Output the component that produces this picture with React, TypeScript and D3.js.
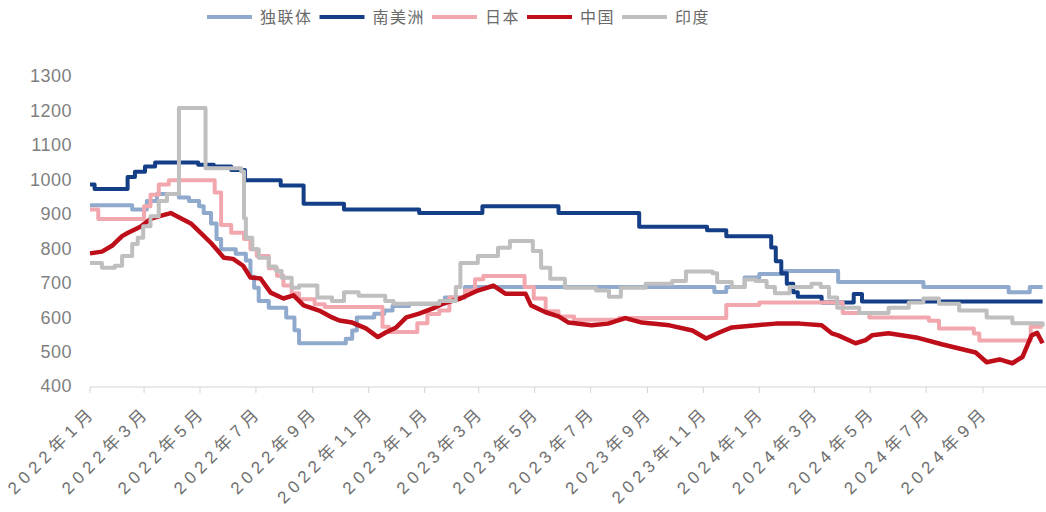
import React from 'react';
import * as d3 from 'd3';

const W = 1046;
const H = 512;

const seriesNames = ['独联体', '南美洲', '日本', '中国', '印度'];
const seriesColors = ['#8FAACC', '#143F86', '#F2A7AF', '#BE0E1A', '#BFBFBF'];

const yTicks = [400, 500, 600, 700, 800, 900, 1000, 1100, 1200, 1300];
const xTickMonths = [
  '2022-01', '2022-03', '2022-05', '2022-07', '2022-09', '2022-11',
  '2023-01', '2023-03', '2023-05', '2023-07', '2023-09', '2023-11',
  '2024-01', '2024-03', '2024-05', '2024-07', '2024-09',
];

type P = [string, number];

const cisData: P[] = [
  ['2022-01-01', 928], ['2022-02-16', 915], ['2022-03-04', 940], ['2022-03-15', 960],
  ['2022-04-08', 950], ['2022-04-19', 940], ['2022-04-30', 925], ['2022-05-05', 905],
  ['2022-05-13', 875], ['2022-05-19', 830], ['2022-05-24', 800], ['2022-06-09', 787],
  ['2022-06-20', 767], ['2022-06-25', 720], ['2022-06-29', 688], ['2022-07-04', 650],
  ['2022-07-15', 630], ['2022-08-03', 602], ['2022-08-12', 565], ['2022-08-17', 527],
  ['2022-09-30', 527], ['2022-10-07', 540], ['2022-10-14', 564], ['2022-10-19', 602],
  ['2022-11-07', 613], ['2022-11-18', 622], ['2022-11-27', 635], ['2022-12-15', 642],
  ['2023-01-23', 660], ['2023-02-14', 690], ['2023-11-13', 676], ['2023-11-26', 690],
  ['2023-12-16', 718], ['2024-01-01', 728], ['2024-01-29', 737], ['2024-03-27', 705],
  ['2024-06-28', 690], ['2024-09-29', 675], ['2024-10-22', 690], ['2024-11-05', 690],
];

const samData: P[] = [
  ['2022-01-01', 988], ['2022-01-06', 975], ['2022-02-11', 1010], ['2022-02-19', 1025],
  ['2022-03-02', 1040], ['2022-03-13', 1052], ['2022-04-29', 1045], ['2022-05-16', 1040],
  ['2022-06-04', 1030], ['2022-06-19', 1000], ['2022-07-28', 985], ['2022-08-22', 932],
  ['2022-10-05', 915], ['2022-12-26', 905], ['2023-03-05', 925], ['2023-05-27', 905],
  ['2023-08-23', 865], ['2023-11-05', 855], ['2023-11-26', 838], ['2024-01-14', 805],
  ['2024-01-19', 765], ['2024-01-25', 730], ['2024-01-31', 700], ['2024-02-07', 675],
  ['2024-02-12', 662], ['2024-03-09', 645], ['2024-04-13', 670], ['2024-04-22', 648],
  ['2024-11-05', 648],
];

const japanData: P[] = [
  ['2022-01-01', 915], ['2022-01-10', 888], ['2022-02-25', 888], ['2022-03-01', 925],
  ['2022-03-08', 958], ['2022-03-17', 988], ['2022-03-28', 1000], ['2022-05-15', 1000],
  ['2022-05-17', 965], ['2022-05-24', 870], ['2022-06-04', 848], ['2022-06-18', 830],
  ['2022-06-25', 800], ['2022-07-02', 780], ['2022-07-15', 745], ['2022-07-24', 723],
  ['2022-07-31', 695], ['2022-08-09', 672], ['2022-08-17', 655], ['2022-09-03', 640],
  ['2022-09-14', 632], ['2022-11-16', 575], ['2022-11-23', 560], ['2022-12-24', 585],
  ['2023-01-04', 612], ['2023-01-17', 622], ['2023-01-28', 660], ['2023-02-14', 680],
  ['2023-02-25', 713], ['2023-03-06', 722], ['2023-04-20', 690], ['2023-04-30', 657],
  ['2023-05-13', 620], ['2023-05-27', 605], ['2023-06-13', 595], ['2023-08-01', 600],
  ['2023-11-26', 638], ['2024-01-01', 645], ['2024-04-01', 615], ['2024-04-30', 602],
  ['2024-07-04', 592], ['2024-07-15', 570], ['2024-08-22', 555], ['2024-08-28', 535],
  ['2024-10-18', 535], ['2024-10-23', 575], ['2024-11-05', 575],
];

const chinaData: P[] = [
  ['2022-01-01', 788], ['2022-01-14', 793], ['2022-01-25', 810], ['2022-02-05', 838],
  ['2022-02-11', 847], ['2022-02-25', 865], ['2022-03-08', 888], ['2022-03-19', 897],
  ['2022-03-30', 905], ['2022-04-10', 890], ['2022-04-21', 875], ['2022-05-02', 847],
  ['2022-05-13', 818], ['2022-05-19', 800], ['2022-05-27', 775], ['2022-06-06', 772],
  ['2022-06-17', 752], ['2022-06-25', 718], ['2022-07-06', 715], ['2022-07-17', 674],
  ['2022-07-31', 657], ['2022-08-11', 666], ['2022-08-22', 637], ['2022-09-08', 622],
  ['2022-09-22', 602], ['2022-09-30', 593], ['2022-10-14', 587], ['2022-10-29', 570],
  ['2022-11-11', 545], ['2022-11-20', 559], ['2022-12-01', 573], ['2022-12-12', 602],
  ['2022-12-26', 613], ['2023-01-10', 628], ['2023-01-21', 642], ['2023-02-09', 657],
  ['2023-02-28', 680], ['2023-03-17', 694], ['2023-03-30', 671], ['2023-04-21', 671],
  ['2023-04-27', 637], ['2023-05-13', 617], ['2023-05-27', 605], ['2023-06-07', 587],
  ['2023-07-02', 579], ['2023-07-20', 584], ['2023-08-08', 600], ['2023-08-26', 587],
  ['2023-09-25', 579], ['2023-10-20', 564], ['2023-11-04', 541], ['2023-11-19', 559],
  ['2023-12-02', 573], ['2024-01-01', 580], ['2024-01-19', 584], ['2024-02-14', 584],
  ['2024-03-09', 579], ['2024-03-20', 556], ['2024-03-27', 550], ['2024-04-15', 527],
  ['2024-04-26', 536], ['2024-05-03', 550], ['2024-05-21', 556], ['2024-06-20', 544],
  ['2024-07-18', 524], ['2024-08-24', 500], ['2024-09-05', 472], ['2024-09-19', 480],
  ['2024-10-03', 469], ['2024-10-14', 487], ['2024-10-24', 550], ['2024-10-30', 557],
  ['2024-11-05', 527],
];

const indiaData: P[] = [
  ['2022-01-01', 760], ['2022-01-14', 746], ['2022-01-28', 752], ['2022-02-05', 780],
  ['2022-02-16', 815], ['2022-02-22', 833], ['2022-02-28', 867], ['2022-03-08', 896],
  ['2022-03-17', 940], ['2022-03-26', 960], ['2022-04-08', 1210], ['2022-05-07', 1035],
  ['2022-06-15', 1026], ['2022-06-18', 890], ['2022-06-20', 833], ['2022-06-27', 800],
  ['2022-07-04', 775], ['2022-07-15', 750], ['2022-07-23', 737], ['2022-07-29', 717],
  ['2022-08-09', 688], ['2022-08-17', 695], ['2022-09-06', 660], ['2022-09-22', 650],
  ['2022-10-05', 675], ['2022-10-21', 665], ['2022-11-19', 650], ['2022-11-28', 642],
  ['2023-01-17', 650], ['2023-02-04', 690], ['2023-02-09', 760], ['2023-02-28', 780],
  ['2023-03-22', 804], ['2023-04-04', 824], ['2023-04-24', 824], ['2023-04-29', 795],
  ['2023-05-08', 746], ['2023-05-18', 714], ['2023-06-03', 688], ['2023-07-07', 680],
  ['2023-07-21', 662], ['2023-08-03', 688], ['2023-08-30', 700], ['2023-09-28', 708],
  ['2023-10-13', 735], ['2023-11-11', 730], ['2023-11-16', 705], ['2023-12-02', 690],
  ['2023-12-16', 712], ['2023-12-28', 708], ['2024-01-09', 690], ['2024-01-18', 672],
  ['2024-02-03', 690], ['2024-02-27', 700], ['2024-03-08', 690], ['2024-03-17', 660],
  ['2024-03-26', 630], ['2024-04-19', 615], ['2024-05-21', 630], ['2024-06-12', 645],
  ['2024-06-28', 657], ['2024-07-15', 642], ['2024-08-06', 622], ['2024-09-05', 602],
  ['2024-10-03', 585], ['2024-11-05', 575],
];

const seriesData: P[][] = [cisData, samData, japanData, chinaData, indiaData];
const seriesStep = [true, true, true, false, true];

const parse = d3.timeParse('%Y-%m-%d');
const parseMonth = d3.timeParse('%Y-%m');

export default function App() {
  const x = d3
    .scaleTime()
    .domain([parse('2022-01-01')!, parse('2024-09-01')!])
    .range([90, 983]);
  const y = d3.scaleLinear().domain([400, 1300]).range([387, 77]);

  const lines = seriesData.map((data, i) => {
    const gen = d3
      .line<P>()
      .x((d) => x(parse(d[0])!))
      .y((d) => y(d[1]))
      .curve(seriesStep[i] ? d3.curveStepAfter : d3.curveLinear);
    return gen(data) || '';
  });

  const tickDates = xTickMonths.map((m) => parseMonth(m)!);

  // legend layout
  const legendY = 17;
  const lineLen = 45;
  const charW = 17.5;
  let cx = 207;
  const legendItems = seriesNames.map((name, i) => {
    const item = { x0: cx, x1: cx + lineLen, tx: cx + lineLen + 8, name, color: seriesColors[i] };
    cx = item.tx + name.length * charW + 7;
    return item;
  });

  return (
    <svg
      width={W}
      height={H}
      style={{ position: 'absolute', left: 0, top: 0, background: '#fff' }}
      fontFamily="'Liberation Sans', Arial, sans-serif"
    >
      {/* legend */}
      {legendItems.map((it) => (
        <g key={it.name}>
          <line x1={it.x0} x2={it.x1} y1={legendY} y2={legendY} stroke={it.color} strokeWidth={4} />
          <text
            x={it.tx}
            y={legendY}
            dy="0.36em"
            fontSize={16}
            letterSpacing={1.5}
            fill="#6a6a6a"
            fontFamily="'Noto Sans CJK SC', sans-serif"
          >
            {it.name}
          </text>
        </g>
      ))}

      {/* y labels */}
      {yTicks.map((t) => (
        <text
          key={t}
          x={72}
          y={y(t) - 1}
          dy="0.36em"
          textAnchor="end"
          fontSize={18}
          letterSpacing={0.5}
          fill="#7f7f7f"
        >
          {t}
        </text>
      ))}

      {/* x axis */}
      <line x1={90} x2={W} y1={387} y2={387} stroke="#d4d4d4" strokeWidth={1} />
      {tickDates.map((d, i) => (
        <g key={i}>
          <line x1={x(d)} x2={x(d)} y1={387} y2={393} stroke="#d4d4d4" strokeWidth={1} />
          <text
            transform={`translate(${x(d) + 7},${413}) rotate(-45)`}
            textAnchor="end"
            fontSize={17}
            letterSpacing={5}
            fill="#6f6f6f"
            fontFamily="'Liberation Sans', 'Noto Sans CJK SC', sans-serif"
          >
            {`${d.getFullYear()}年${d.getMonth() + 1}月`}
          </text>
        </g>
      ))}

      {/* series */}
      {lines.map((p, i) => (
        <path
          key={i}
          d={p}
          fill="none"
          stroke={seriesColors[i]}
          strokeWidth={i === 3 ? 4.5 : 4}
          strokeLinejoin="round"
        />
      ))}
    </svg>
  );
}
